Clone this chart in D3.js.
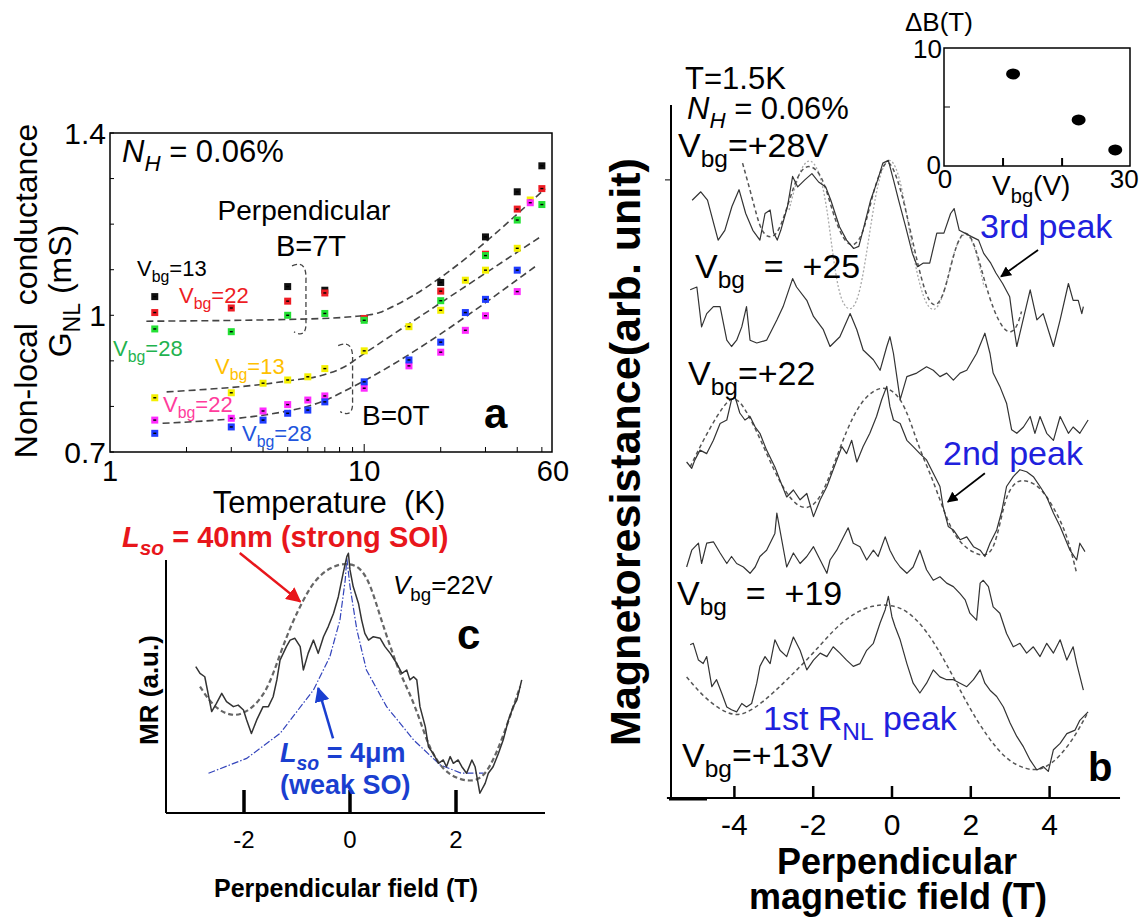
<!doctype html>
<html>
<head>
<meta charset="utf-8">
<title>Non-local conductance and magnetoresistance</title>
<script src="https://cdn.jsdelivr.net/npm/d3@7"></script>
<style>
  body { margin: 0; background: #fff; }
  text { font-family: "Liberation Sans", Arial, sans-serif; white-space: pre; }
</style>
</head>
<body>
<svg id="fig" width="1144" height="922"></svg>
<script>

// ---------------- panel a : G_NL vs temperature ----------------
var tempLabels = [1, 10, 60];
var tempMinor = [2, 3, 4, 5, 6, 7, 8, 9, 20, 30, 40, 50];
var gTicks = [0.7, 0.8, 0.9, 1.0, 1.1, 1.2, 1.3, 1.4];
var gLabels = [0.7, 1, 1.4];

// B = 7T
var gBlack13 = [[1.5,1.041],[5,1.063],[7,1.055],[10,0.993],[20,1.072],[30,1.172],[40,1.271],[50,1.328]];
var gRed22 = [[1.5,1.006],[3,1.016],[5,1.031],[7,1.049],[10,0.993],[20,1.053],[30,1.134],[40,1.233],[50,1.278]];
var gGreen28 = [[1.5,0.970],[3,0.964],[5,1.000],[7,1.004],[10,0.989],[20,1.032],[30,1.131],[40,1.209],[50,1.243]];
// B = 0T
var gYellow13 = [[1.5,0.819],[3,0.830],[4,0.851],[5,0.858],[6,0.865],[7,0.883],[10,0.922],[15,0.975],[20,1.011],[25,1.077],[30,1.099],[40,1.147],[45,1.253]];
var gMagenta22 = [[1.5,0.770],[3,0.774],[4,0.790],[5,0.804],[6,0.814],[7,0.823],[10,0.840],[15,0.889],[20,0.919],[25,0.967],[30,0.999],[40,1.052],[45,1.247]];
var gBlue28 = [[1.5,0.741],[3,0.755],[4,0.770],[5,0.785],[6,0.792],[7,0.810],[10,0.854],[15,0.902],[20,0.941],[25,1.006],[30,1.035],[40,1.099]];

// dashed guide lines
var fit7T = [[1.39,0.987],[6,0.992],[9,0.997],[10.5,1.001],[11.5,1.006],[12.5,1.015],[51.5,1.278]];
var fit0T13 = [[1.67,0.832],[5,0.856],[7,0.870],[8.3,0.886],[10,0.916],[49.3,1.172]];
var fit0T28 = [[1.61,0.763],[5,0.790],[7,0.813],[8.8,0.840],[47.1,1.107]];

// ---------------- panel b : MR traces ----------------
var fieldTicks = [-4, -2, 0, 2, 4];
var mr28 = [[-5.06,85.4],[-4.84,86.6],[-4.67,85.4],[-4.49,81.6],[-4.40,79.7],[-4.23,81.1],[-4.05,84.5],[-3.87,86.9],[-3.70,83.5],[-3.52,81.1],[-3.34,79.7],[-3.21,83.5],[-3.08,84.0],[-2.99,80.7],[-2.90,79.7],[-2.81,81.1],[-2.64,84.5],[-2.51,88.8],[-2.38,87.3],[-2.20,88.3],[-2.02,89.2],[-1.85,88.0],[-1.67,87.3],[-1.54,85.4],[-1.32,81.6],[-1.14,79.7],[-0.96,78.5],[-0.83,78.8],[-0.70,81.6],[-0.53,85.4],[-0.35,88.3],[-0.22,90.7],[-0.08,91.1],[0.05,88.3],[0.18,85.4],[0.36,81.6],[0.53,77.8],[0.66,75.9],[0.80,76.4],[0.97,76.4],[1.15,80.7],[1.33,80.7],[1.50,83.5],[1.59,84.2],[1.72,81.1],[1.86,80.7],[2.03,80.2],[2.21,79.7],[2.34,77.8],[2.52,76.4],[2.65,75.0],[2.82,73.5],[3.00,71.6],[3.09,67.8],[3.18,64.5],[3.26,66.4],[3.52,72.6],[3.69,68.3],[3.85,69.2],[4.11,64.5],[4.28,68.3],[4.49,73.5],[4.61,71.1],[4.74,71.1],[4.83,69.2],[4.87,70.2]];
var mr28fit = [[-3.78,90.7],[-3.52,85.4],[-3.35,81.6],[-3.17,80.0],[-2.90,80.2],[-2.64,84.5],[-2.38,89.2],[-2.11,90.7],[-1.76,89.2],[-1.49,83.5],[-1.23,79.7],[-0.96,78.5],[-0.70,80.7],[-0.44,87.3],[-0.17,91.1],[0.01,90.7],[0.27,86.4],[0.53,79.7],[0.84,72.0],[1.10,69.7],[1.35,72.0],[1.60,78.5],[1.85,81.5],[2.10,79.5],[2.35,74.0],[2.60,69.5],[2.85,66.8],[3.05,66.4],[3.20,67.5],[3.30,69.5]];
var mr28fit2 = [[-2.60,84.0],[-2.35,89.5],[-2.10,91.6],[-1.85,90.0],[-1.65,85.0],[-1.50,78.0],[-1.35,72.5],[-1.20,70.2],[-1.00,69.5],[-0.80,72.0],[-0.60,79.0],[-0.40,86.5],[-0.20,90.8],[0.00,91.5],[0.20,89.0],[0.40,83.0],[0.60,76.0],[0.80,71.5],[1.00,69.5],[1.20,70.0],[1.40,73.5],[1.60,78.5],[1.80,80.7],[2.00,80.5],[2.20,77.0],[2.35,73.0]];
var mr25 = [[-5.11,72.6],[-4.94,73.0],[-4.82,67.3],[-4.69,69.2],[-4.52,70.2],[-4.35,70.2],[-4.18,65.4],[-4.06,64.5],[-3.93,65.4],[-3.80,67.3],[-3.68,70.2],[-3.59,65.4],[-3.42,65.0],[-3.17,65.4],[-2.91,68.3],[-2.75,70.2],[-2.51,74.2],[-2.41,73.0],[-2.15,71.1],[-1.98,68.8],[-1.73,66.9],[-1.56,64.5],[-1.31,65.9],[-1.05,69.2],[-0.88,66.9],[-0.72,64.0],[-0.46,62.6],[-0.29,61.1],[-0.12,64.5],[-0.04,65.9],[0.05,63.5],[0.22,56.9],[0.39,60.2],[0.64,60.7],[0.89,61.6],[1.06,61.1],[1.23,60.2],[1.40,60.7],[1.57,59.7],[1.74,60.7],[1.91,61.1],[2.16,63.5],[2.37,66.4],[2.50,63.5],[2.58,60.7],[2.75,58.8],[2.92,56.4],[3.05,52.6],[3.18,52.1],[3.35,53.0],[3.52,54.5],[3.64,52.1],[3.77,54.5],[3.94,52.1],[4.11,51.1],[4.28,54.5],[4.49,52.1],[4.61,53.0],[4.78,52.1],[4.99,54.0]];
var mr22 = [[-5.20,48.0],[-5.07,47.1],[-4.99,48.3],[-4.86,49.7],[-4.69,49.2],[-4.52,51.1],[-4.35,53.5],[-4.18,54.0],[-4.06,56.9],[-3.97,57.3],[-3.85,55.0],[-3.72,54.0],[-3.59,54.5],[-3.46,53.0],[-3.34,52.1],[-3.17,49.7],[-2.96,47.3],[-2.83,45.4],[-2.66,43.0],[-2.49,44.0],[-2.32,42.6],[-2.15,43.5],[-1.98,40.2],[-1.81,42.6],[-1.64,44.5],[-1.48,46.9],[-1.26,50.2],[-1.14,49.2],[-1.01,51.1],[-0.88,48.0],[-0.72,50.2],[-0.55,52.1],[-0.38,54.5],[-0.25,56.9],[-0.12,58.8],[-0.04,55.9],[0.05,54.0],[0.22,53.5],[0.39,51.1],[0.55,50.2],[0.72,49.2],[0.89,48.3],[1.06,46.4],[1.23,44.5],[1.31,41.6],[1.44,38.8],[1.57,38.3],[1.74,36.9],[1.91,37.3],[2.08,35.9],[2.25,35.4],[2.37,34.5],[2.50,36.4],[2.67,38.3],[2.80,41.0],[2.92,44.5],[3.09,45.9],[3.26,46.9],[3.43,46.6],[3.60,45.9],[3.77,44.5],[3.94,43.0],[4.11,40.7],[4.28,38.8],[4.53,35.4],[4.70,34.0],[4.78,36.4],[4.91,35.2]];
var mr22fit = [[-5.11,47.3],[-4.78,51.1],[-4.44,54.5],[-4.10,57.3],[-3.85,56.9],[-3.51,53.5],[-3.17,49.2],[-2.83,45.0],[-2.49,42.1],[-2.15,41.1],[-1.81,42.6],[-1.48,47.3],[-1.14,52.6],[-0.80,56.4],[-0.46,58.3],[-0.12,58.8],[0.22,57.3],[0.47,54.0],[0.72,49.7],[0.98,46.4],[1.23,42.6],[1.48,38.8],[1.74,36.4],[2.08,35.0],[2.37,34.5],[2.58,35.4],[2.75,39.0],[2.92,43.5],[3.18,45.4],[3.43,45.4],[3.77,44.5],[4.11,41.6],[4.45,37.8],[4.70,32.1]];
var mr19 = [[-5.20,33.0],[-5.07,35.4],[-4.90,36.4],[-4.82,33.5],[-4.69,36.4],[-4.52,36.6],[-4.35,35.0],[-4.18,33.5],[-4.06,34.5],[-3.93,33.5],[-3.76,33.0],[-3.59,32.1],[-3.46,33.0],[-3.34,34.5],[-3.17,35.4],[-2.96,37.8],[-2.91,40.7],[-2.66,33.0],[-2.49,35.0],[-2.32,33.5],[-2.15,34.5],[-1.98,35.9],[-1.81,34.0],[-1.64,32.1],[-1.56,34.0],[-1.39,35.4],[-1.22,37.3],[-1.10,38.6],[-0.97,36.4],[-0.80,35.9],[-0.63,34.0],[-0.46,35.4],[-0.34,34.5],[-0.16,37.3],[-0.04,35.4],[0.09,34.0],[0.22,33.0],[0.39,32.1],[0.55,33.0],[0.72,35.4],[0.89,32.6],[1.06,31.1],[1.23,31.6],[1.40,30.7],[1.57,30.2],[1.74,29.2],[1.87,28.3],[1.99,26.4],[2.16,25.4],[2.25,30.7],[2.33,31.1],[2.46,30.2],[2.58,27.3],[2.75,26.4],[2.92,23.5],[3.09,21.6],[3.26,22.1],[3.43,20.7],[3.60,21.6],[3.77,20.2],[3.94,22.1],[4.11,20.7],[4.28,22.6],[4.45,19.7],[4.61,21.6],[4.70,19.2],[4.87,15.4]];
var mr13 = [[-5.11,21.9],[-5.03,22.1],[-4.90,19.7],[-4.78,19.2],[-4.69,20.2],[-4.56,15.9],[-4.44,16.9],[-4.31,15.0],[-4.18,13.0],[-4.06,12.6],[-3.93,12.3],[-3.80,13.5],[-3.68,13.0],[-3.55,13.5],[-3.42,16.4],[-3.34,18.8],[-3.21,20.2],[-3.08,19.2],[-2.96,22.6],[-2.83,21.1],[-2.66,20.2],[-2.49,23.0],[-2.32,21.1],[-2.15,18.3],[-1.98,19.7],[-1.81,20.7],[-1.64,20.2],[-1.48,21.6],[-1.31,20.7],[-1.14,19.7],[-0.97,18.8],[-0.80,19.2],[-0.63,21.1],[-0.46,22.1],[-0.29,25.0],[-0.16,26.9],[-0.08,28.8],[0.01,25.9],[0.09,24.5],[0.22,22.6],[0.39,19.2],[0.55,16.4],[0.72,15.0],[0.89,16.4],[1.06,18.3],[1.23,17.3],[1.40,16.9],[1.57,16.9],[1.74,16.4],[1.91,15.9],[2.08,16.9],[2.25,18.3],[2.37,16.4],[2.50,15.4],[2.67,14.5],[2.84,13.0],[3.01,10.7],[3.18,8.8],[3.35,7.3],[3.52,5.4],[3.69,4.0],[3.85,4.5],[3.98,3.8],[4.11,6.9],[4.28,7.8],[4.45,9.2],[4.66,9.7],[4.78,11.1],[4.99,12.3]];
var mr13fit = [[-5.20,17.3],[-4.78,14.5],[-4.35,12.6],[-3.93,11.6],[-3.51,12.6],[-3.00,15.0],[-2.49,17.8],[-1.98,20.7],[-1.48,24.0],[-0.97,26.4],[-0.46,27.6],[-0.04,27.6],[0.39,26.9],[0.89,24.0],[1.40,19.2],[1.91,13.5],[2.42,8.8],[2.92,5.4],[3.43,4.0],[3.85,4.0],[4.28,5.9],[4.70,9.2],[4.99,12.3]];

// inset: peak spacing vs gate voltage
var insetVbg = [11.7, 22.8, 29.0];
var insetDB = [7.8, 3.9, 1.36];

// ---------------- panel c : MR at Vbg = 22V ----------------
var fieldTicksC = [-2, 0, 2];
var mrC = [[-2.91,5.63],[-2.83,5.37],[-2.74,5.24],[-2.61,3.90],[-2.52,4.22],[-2.42,4.60],[-2.33,4.28],[-2.20,4.09],[-2.11,4.15],[-2.01,3.96],[-1.95,3.58],[-1.86,3.06],[-1.76,3.58],[-1.64,4.09],[-1.54,4.09],[-1.45,4.47],[-1.38,5.12],[-1.32,5.88],[-1.20,6.40],[-1.13,6.65],[-1.04,6.72],[-0.94,6.40],[-0.88,5.50],[-0.79,6.14],[-0.69,6.65],[-0.60,6.14],[-0.50,6.78],[-0.41,7.17],[-0.31,7.68],[-0.22,8.32],[-0.13,9.22],[-0.06,9.86],[-0.03,9.99],[0.00,9.35],[0.06,8.71],[0.16,8.06],[0.22,7.42],[0.28,6.91],[0.35,6.65],[0.44,6.78],[0.57,6.72],[0.66,6.40],[0.76,6.14],[0.88,5.76],[0.98,5.37],[1.07,5.50],[1.13,5.12],[1.20,5.24],[1.26,5.12],[1.32,4.09],[1.42,3.32],[1.48,2.55],[1.57,2.29],[1.67,1.91],[1.76,2.04],[1.82,1.78],[1.89,2.17],[1.95,1.91],[2.04,2.04],[2.11,1.78],[2.20,1.53],[2.30,2.04],[2.36,1.78],[2.45,0.76],[2.55,1.14],[2.61,1.53],[2.70,1.78],[2.80,2.29],[2.89,2.81],[2.99,3.58],[3.08,4.09],[3.15,4.35],[3.24,5.12]];
var mrCstrong = [[-2.83,4.86],[-2.58,4.09],[-2.26,3.71],[-1.95,3.83],[-1.57,4.60],[-1.32,6.14],[-1.07,7.42],[-0.88,8.19],[-0.69,8.90],[-0.38,9.47],[-0.06,9.63],[0.19,9.47],[0.38,8.83],[0.57,7.55],[0.76,6.40],[0.94,5.37],[1.13,4.60],[1.32,3.58],[1.51,2.42],[1.76,1.65],[2.01,1.33],[2.26,1.21],[2.52,1.33],[2.77,2.29],[3.02,3.71],[3.21,4.86]];
var mrCweak = [[-2.67,1.53],[-1.95,2.10],[-1.32,3.06],[-0.69,4.73],[-0.38,6.01],[-0.19,7.42],[-0.09,8.96],[-0.06,9.80],[0.00,8.71],[0.13,7.04],[0.31,5.50],[0.69,4.09],[1.20,2.81],[1.70,1.85],[2.10,1.53],[2.52,1.53]];

var svg = d3.select("#fig");
svg.append("rect").attr("width", 1144).attr("height", 922).attr("fill", "#fff");

var defs = svg.append("defs");
[["arrRed", "#e8161b"], ["arrBlue", "#1a3fd0"], ["arrBlack", "#000"]].forEach(function (m) {
    defs.append("marker")
        .attr("id", m[0])
        .attr("viewBox", "0 0 10 10")
        .attr("refX", 9).attr("refY", 5)
        .attr("markerWidth", 6).attr("markerHeight", 6)
        .attr("orient", "auto")
        .append("path").attr("d", "M0,0 L10,5 L0,10 z").attr("fill", m[1]);
});

// text with sub-scripts: "_xx" = subscript, "*xx" = italic, "*_xx" = italic subscript
function rich(g, x, y, parts, size, fill, weight, anchor) {
    var t = g.append("text")
        .attr("x", x).attr("y", y)
        .attr("font-size", size)
        .attr("fill", fill || "#000");
    if (weight) t.attr("font-weight", weight);
    if (anchor) t.attr("text-anchor", anchor);
    var shift = 0;
    parts.forEach(function (p) {
        var it = false, sub = false;
        if (p[0] === "*") { it = true; p = p.slice(1); }
        if (p[0] === "_") { sub = true; p = p.slice(1); }
        var want = sub ? size * 0.28 : 0;
        var s = t.append("tspan").text(p).attr("dy", want - shift);
        shift = want;
        if (sub) s.attr("font-size", size * 0.72);
        if (it) s.attr("font-style", "italic");
    });
    return t;
}

// ================= panel a =================
var ga = svg.append("g");
var xA = d3.scaleLog().domain([1, 60]).range([110, 562]);
var yA = d3.scaleLinear().domain([0.7, 1.4]).range([452, 133]);

ga.selectAll(".yt").data(gTicks).enter().append("line")
    .attr("x1", 110).attr("x2", 114)
    .attr("y1", function (d) { return yA(d); }).attr("y2", function (d) { return yA(d); })
    .attr("stroke", "#000").attr("stroke-width", 1);
ga.selectAll(".xt").data(tempMinor).enter().append("line")
    .attr("x1", function (d) { return xA(d); }).attr("x2", function (d) { return xA(d); })
    .attr("y1", 452).attr("y2", 447)
    .attr("stroke", "#000").attr("stroke-width", 1);
ga.append("line").attr("x1", xA(10)).attr("x2", xA(10)).attr("y1", 452).attr("y2", 444).attr("stroke", "#000");

ga.append("rect").attr("x", 110).attr("y", 133).attr("width", 442).attr("height", 319)
    .attr("fill", "none").attr("stroke", "#000").attr("stroke-width", 1.5);

ga.selectAll(".yl").data(gLabels).enter().append("text")
    .attr("x", 106).attr("y", function (d) { return yA(d) + 11; })
    .attr("text-anchor", "end").attr("font-size", 30)
    .text(function (d) { return d; });
ga.selectAll(".xl").data(tempLabels).enter().append("text")
    .attr("x", function (d) { return Math.min(xA(d), 553); }).attr("y", 481)
    .attr("text-anchor", "middle").attr("font-size", 29)
    .text(function (d) { return d; });

ga.append("text").attr("x", 329).attr("y", 513).attr("text-anchor", "middle")
    .attr("font-size", 31).text("Temperature  (K)");
ga.append("text").attr("transform", "translate(37,291) rotate(-90)")
    .attr("text-anchor", "middle").attr("font-size", 32).text("Non-local  conductance");
rich(ga, 0, 0, ["G", "_NL", " (mS)"], 32, "#000", null, "middle")
    .attr("transform", "translate(71,291) rotate(-90)");

var lineA = d3.line().x(function (d) { return xA(d[0]); }).y(function (d) { return yA(d[1]); })
    .curve(d3.curveMonotoneX);
[fit7T, fit0T13, fit0T28].forEach(function (f) {
    ga.append("path").attr("d", lineA(f)).attr("fill", "none")
        .attr("stroke", "#444").attr("stroke-width", 1.6).attr("stroke-dasharray", "7,4");
});

// dashed brackets grouping the curves
function bracket(t1, t2, gTop, gBot) {
    var xl = xA(t1), xr = xA(t2), yt = yA(gTop), yb = yA(gBot);
    return "M" + xl + "," + (yt + 3) + " Q" + (xr + 1) + "," + (yt - 4) + " " + xr + "," + (yt + 18) +
        " L" + xr + "," + (yb - 14) + " Q" + (xr + 1) + "," + (yb + 4) + " " + (xl + 2) + "," + (yb - 3);
}
ga.append("path").attr("d", bracket(5.2, 5.9, 1.115, 0.957)).attr("fill", "none")
    .attr("stroke", "#444").attr("stroke-width", 1.3).attr("stroke-dasharray", "5,3");
ga.append("path").attr("d", bracket(7.9, 9.0, 0.94, 0.782)).attr("fill", "none")
    .attr("stroke", "#444").attr("stroke-width", 1.3).attr("stroke-dasharray", "5,3");

var seriesA = [
    [gBlack13, "#111"], [gRed22, "#ee1c24"], [gGreen28, "#22e033"],
    [gYellow13, "#f4f000"], [gMagenta22, "#ff2aff"], [gBlue28, "#1f3cff"]
];
seriesA.forEach(function (s) {
    var pts = ga.selectAll(null).data(s[0]).enter().append("g")
        .attr("transform", function (d) { return "translate(" + xA(d[0]) + "," + yA(d[1]) + ")"; });
    pts.append("rect").attr("x", -3.5).attr("y", -3.5).attr("width", 7).attr("height", 7).attr("fill", s[1]);
    pts.append("rect").attr("x", -1.5).attr("y", -0.7).attr("width", 3).attr("height", 1.4).attr("fill", "#000");
});

rich(ga, 122, 162, ["*N", "*_H", " = 0.06%"], 31, "#000");
ga.append("text").attr("x", 304).attr("y", 220).attr("text-anchor", "middle").attr("font-size", 28).text("Perpendicular");
ga.append("text").attr("x", 311).attr("y", 256).attr("text-anchor", "middle").attr("font-size", 29).text("B=7T");
ga.append("text").attr("x", 362).attr("y", 425).attr("font-size", 28).text("B=0T");
ga.append("text").attr("x", 484).attr("y", 428).attr("font-size", 42).attr("font-weight", "bold").text("a");

rich(ga, 137, 276, ["V", "_bg", "=13"], 22, "#000");
rich(ga, 179, 303, ["V", "_bg", "=22"], 22, "#ee1c24");
rich(ga, 113, 356, ["V", "_bg", "=28"], 22, "#1fb34f");
rich(ga, 215, 374, ["V", "_bg", "=13"], 22, "#ffc000");
rich(ga, 163, 412, ["V", "_bg", "=22"], 22, "#ff3c9c");
rich(ga, 242, 441, ["V", "_bg", "=28"], 22, "#2255dd");

// ================= panel b =================
var gb = svg.append("g");
var xB = d3.scaleLinear().domain([-5, 5]).range([694.5, 1088.5]);
var yB = d3.scaleLinear().domain([0, 100]).range([798, 98]);

gb.append("line").attr("x1", xB(-5.7)).attr("x2", xB(5.8)).attr("y1", yB(0)).attr("y2", yB(0))
    .attr("stroke", "#000").attr("stroke-width", 2);
gb.append("line").attr("x1", 671).attr("x2", 671).attr("y1", yB(0)).attr("y2", yB(99))
    .attr("stroke", "#000").attr("stroke-width", 2);
gb.append("line").attr("x1", 665).attr("x2", 671).attr("y1", yB(88.3)).attr("y2", yB(88.3))
    .attr("stroke", "#000").attr("stroke-width", 1);
gb.append("line").attr("x1", 669).attr("x2", 707).attr("y1", 799).attr("y2", 799)
    .attr("stroke", "#000").attr("stroke-width", 3);

var axB = gb.append("g").attr("transform", "translate(0," + yB(0) + ")")
    .call(d3.axisBottom(xB).tickValues(fieldTicks).tickSize(-12).tickPadding(16)
        .tickFormat(function (d) { return String(d); }));
axB.select(".domain").remove();
axB.selectAll(".tick line").attr("stroke-width", 2.5);
axB.selectAll(".tick text").attr("font-size", 30).attr("font-family", "Liberation Sans, Arial, sans-serif");

var lineB = d3.line().x(function (d) { return xB(d[0]); }).y(function (d) { return yB(d[1]); });
var lineBs = d3.line().x(function (d) { return xB(d[0]); }).y(function (d) { return yB(d[1]); }).curve(d3.curveBasis);

[mr28fit2].forEach(function (f) {
    gb.append("path").attr("d", lineBs(f)).attr("fill", "none")
        .attr("stroke", "#a8a8a8").attr("stroke-width", 1.3).attr("stroke-dasharray", "2,2");
});
[mr28fit, mr22fit, mr13fit].forEach(function (f) {
    gb.append("path").attr("d", lineBs(f)).attr("fill", "none")
        .attr("stroke", "#555").attr("stroke-width", 1.5).attr("stroke-dasharray", "4,3");
});
[mr28, mr25, mr22, mr19, mr13].forEach(function (f) {
    gb.append("path").attr("d", lineB(f)).attr("fill", "none")
        .attr("stroke", "#333").attr("stroke-width", 1.2).attr("stroke-linejoin", "round");
});

gb.append("text").attr("transform", "translate(640,452) rotate(-90)")
    .attr("text-anchor", "middle").attr("font-size", 43).attr("font-weight", "bold")
    .text("Magnetoresistance(arb. unit)");
gb.append("text").attr("x", 897).attr("y", 874).attr("text-anchor", "middle")
    .attr("font-size", 36).attr("font-weight", "bold").text("Perpendicular");
gb.append("text").attr("x", 898).attr("y", 909).attr("text-anchor", "middle")
    .attr("font-size", 36).attr("font-weight", "bold").text("magnetic field (T)");

gb.append("text").attr("x", 685).attr("y", 89).attr("font-size", 31).text("T=1.5K");
rich(gb, 687, 119, ["*N", "*_H", " = 0.06%"], 31, "#000");
rich(gb, 678, 157, ["V", "_bg", "=+28V"], 34, "#000");
rich(gb, 695, 278, ["V", "_bg", "  =  +25"], 34, "#000");
rich(gb, 688, 385, ["V", "_bg", "=+22"], 34, "#000");
rich(gb, 677, 605, ["V", "_bg", "  =  +19"], 34, "#000");
rich(gb, 682, 767, ["V", "_bg", "=+13V"], 34, "#000");
gb.append("text").attr("x", 980).attr("y", 238).attr("font-size", 34).attr("fill", "#2020dd").text("3rd peak");
gb.append("text").attr("x", 943).attr("y", 465).attr("font-size", 34).attr("fill", "#2020dd").text("2nd peak");
rich(gb, 763, 730, ["1st R", "_NL", " peak"], 34, "#2020dd");
gb.append("text").attr("x", 1088).attr("y", 781).attr("font-size", 40).attr("font-weight", "bold").text("b");

// arrows pointing at the peaks
var arrows3 = [[3.72, 78.3], [2.78, 74.5]];
var arrows2 = [[2.37, 46.4], [1.43, 42.3]];
[arrows3, arrows2].forEach(function (a) {
    gb.append("line")
        .attr("x1", xB(a[0][0])).attr("y1", yB(a[0][1]))
        .attr("x2", xB(a[1][0])).attr("y2", yB(a[1][1]))
        .attr("stroke", "#000").attr("stroke-width", 1.8).attr("marker-end", "url(#arrBlack)");
});

// inset
var gi = svg.append("g");
var xI = d3.scaleLinear().domain([0, 31.5]).range([944, 1130]);
var yI = d3.scaleLinear().domain([0, 10]).range([166, 48]);
gi.append("rect").attr("x", xI(0)).attr("y", yI(10)).attr("width", xI(31.5) - xI(0)).attr("height", yI(0) - yI(10))
    .attr("fill", "#fff").attr("stroke", "#000").attr("stroke-width", 1.5);
gi.selectAll(".it").data([10, 20]).enter().append("line")
    .attr("x1", function (d) { return xI(d); }).attr("x2", function (d) { return xI(d); })
    .attr("y1", yI(0)).attr("y2", yI(0) - 8).attr("stroke", "#000").attr("stroke-width", 2);
gi.append("line").attr("x1", xI(0)).attr("x2", xI(0) + 6).attr("y1", yI(5)).attr("y2", yI(5)).attr("stroke", "#000");
gi.selectAll("ellipse").data(insetVbg).enter().append("ellipse")
    .attr("cx", function (d) { return xI(d); })
    .attr("cy", function (d, i) { return yI(insetDB[i]); })
    .attr("rx", 7).attr("ry", 5.5).attr("fill", "#000");
gi.append("text").attr("x", 942).attr("y", yI(10) + 10).attr("text-anchor", "end").attr("font-size", 26).text("10");
gi.append("text").attr("x", 941).attr("y", yI(0) + 8).attr("text-anchor", "end").attr("font-size", 26).text("0");
gi.append("text").attr("x", xI(0) + 1).attr("y", 188).attr("text-anchor", "middle").attr("font-size", 26).text("0");
gi.append("text").attr("x", xI(30) + 3).attr("y", 188).attr("text-anchor", "middle").attr("font-size", 26).text("30");
gi.append("text").attr("x", 905).attr("y", 31).attr("font-size", 26).text("\u0394B(T)");
rich(gi, 992, 195, ["V", "_bg", "(V)"], 28, "#000");

// ================= panel c =================
var gc = svg.append("g");
var xC = d3.scaleLinear().domain([-2, 2]).range([244, 456]);
var yC = d3.scaleLinear().domain([0, 10]).range([813, 553]);

gc.append("line").attr("x1", 166).attr("x2", 545).attr("y1", yC(0)).attr("y2", yC(0))
    .attr("stroke", "#000").attr("stroke-width", 2);
gc.append("line").attr("x1", 166).attr("x2", 166).attr("y1", yC(0)).attr("y2", 560)
    .attr("stroke", "#000").attr("stroke-width", 2);
gc.selectAll(".ct").data(fieldTicksC).enter().append("line")
    .attr("x1", function (d) { return xC(d); }).attr("x2", function (d) { return xC(d); })
    .attr("y1", yC(0)).attr("y2", yC(0) - 23)
    .attr("stroke", "#000").attr("stroke-width", 3.5);
gc.selectAll(".cl").data(fieldTicksC).enter().append("text")
    .attr("x", function (d) { return xC(d); }).attr("y", 848)
    .attr("text-anchor", "middle").attr("font-size", 24)
    .text(function (d) { return String(d); });

gc.append("text").attr("x", 346).attr("y", 897).attr("text-anchor", "middle")
    .attr("font-size", 25).attr("font-weight", "bold").text("Perpendicular field (T)");
gc.append("text").attr("transform", "translate(158,690) rotate(-90)")
    .attr("text-anchor", "middle").attr("font-size", 26).attr("font-weight", "bold").text("MR (a.u.)");

var lineC = d3.line().x(function (d) { return xC(d[0]); }).y(function (d) { return yC(d[1]); });
var lineCs = d3.line().x(function (d) { return xC(d[0]); }).y(function (d) { return yC(d[1]); }).curve(d3.curveBasis);
gc.append("path").attr("d", lineC(mrCweak)).attr("fill", "none")
    .attr("stroke", "#3344bb").attr("stroke-width", 1.2).attr("stroke-dasharray", "7,2,1.5,2");
gc.append("path").attr("d", lineCs(mrCstrong)).attr("fill", "none")
    .attr("stroke", "#666").attr("stroke-width", 2.2).attr("stroke-dasharray", "5,3");
gc.append("path").attr("d", lineC(mrC))
    .attr("fill", "none").attr("stroke", "#333").attr("stroke-width", 1.5).attr("stroke-linejoin", "round");

var arrowRed = [[-2.08, 10.0], [-0.94, 8.13]];
var arrowBlue = [[-0.32, 2.87], [-0.60, 4.80]];
gc.append("line").attr("x1", xC(arrowRed[0][0])).attr("y1", yC(arrowRed[0][1]))
    .attr("x2", xC(arrowRed[1][0])).attr("y2", yC(arrowRed[1][1]))
    .attr("stroke", "#e8161b").attr("stroke-width", 2.5).attr("marker-end", "url(#arrRed)");
gc.append("line").attr("x1", xC(arrowBlue[0][0])).attr("y1", yC(arrowBlue[0][1]))
    .attr("x2", xC(arrowBlue[1][0])).attr("y2", yC(arrowBlue[1][1]))
    .attr("stroke", "#1a3fd0").attr("stroke-width", 2.5).attr("marker-end", "url(#arrBlue)");

rich(gc, 122, 547, ["*L", "*_so", " = 40nm (strong SOI)"], 29, "#e8161b", "bold");
rich(gc, 393, 594, ["*V", "_bg", "=22V"], 26, "#000");
gc.append("text").attr("x", 457).attr("y", 649).attr("font-size", 42).attr("font-weight", "bold").text("c");
rich(gc, 280, 762, ["*L", "*_so", " = 4\u03bcm"], 27, "#1a3fd0", "bold");
gc.append("text").attr("x", 280).attr("y", 794).attr("font-size", 27).attr("font-weight", "bold")
    .attr("fill", "#1a3fd0").text("(weak SO)");

</script>
</body>
</html>
